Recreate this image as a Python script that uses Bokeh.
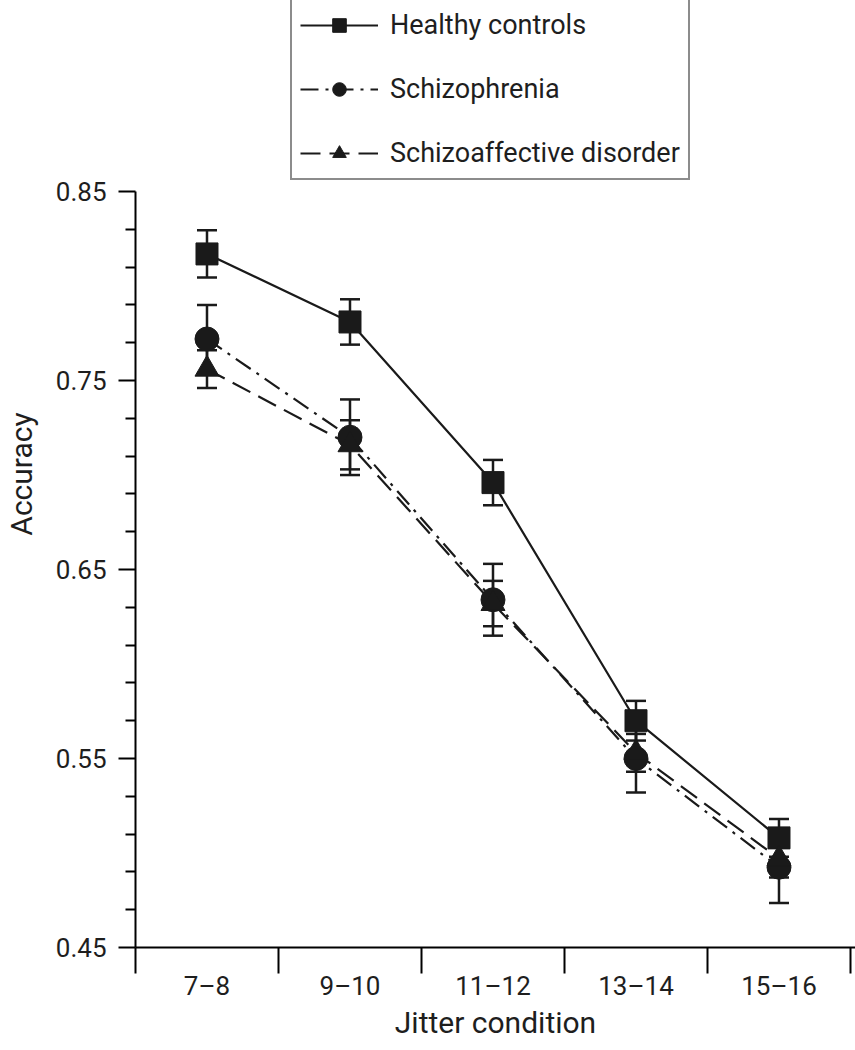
from bokeh.plotting import figure
from bokeh.models import Range1d, FixedTicker, Legend, LegendItem, ColumnDataSource, Whisker, TeeHead
from bokeh.embed import file_html
from bokeh.resources import INLINE

conditions = ["7–8", "9–10", "11–12", "13–14", "15–16"]
healthy = [0.817, 0.781, 0.696, 0.570, 0.508]
healthy_err = [0.0125, 0.012, 0.012, 0.0105, 0.010]
scz = [0.772, 0.720, 0.634, 0.550, 0.4925]
scz_err = [0.018, 0.020, 0.019, 0.018, 0.019]
sza = [0.756, 0.716, 0.632, 0.553, 0.497]
sza_err = [0.010, 0.013, 0.012, 0.010, 0.010]

xs = [i + 0.5 for i in range(len(conditions))]

W, H = 855, 1050
BOTTOM = 103
FRAME_H = H - BOTTOM
p = figure(width=W, height=H, output_backend="svg", toolbar_location=None,
           x_range=Range1d(0, 5.035), y_range=Range1d(0.45, 0.9511),
           min_border_left=135, min_border_right=0, min_border_top=0, min_border_bottom=BOTTOM)
p.outline_line_color = None
p.xgrid.visible = False
p.ygrid.visible = False
p.background_fill_color = "white"

FONT = "Roboto"
TXT = "#1e1e1e"

# x axis
p.xaxis.ticker = FixedTicker(ticks=xs, minor_ticks=[0, 1, 2, 3, 4, 5])
p.xaxis.major_label_overrides = {x: c for x, c in zip(xs, conditions)}
p.xaxis.major_tick_out = 0
p.xaxis.major_tick_in = 0
p.xaxis.minor_tick_out = 26
p.xaxis.minor_tick_in = 0
p.xaxis.major_label_standoff = -3
p.xaxis.major_label_text_font = FONT
p.xaxis.major_label_text_font_size = "26px"
p.xaxis.major_label_text_color = TXT
p.xaxis.axis_label = "Jitter condition"
p.xaxis.axis_label_text_font = FONT
p.xaxis.axis_label_text_font_size = "30px"
p.xaxis.axis_label_text_font_style = "normal"
p.xaxis.axis_label_text_color = TXT
p.xaxis.axis_label_standoff = 1
p.xaxis.axis_line_width = 2
p.xaxis.minor_tick_line_width = 2

# y axis
p.yaxis.ticker = FixedTicker(ticks=[0.45, 0.55, 0.65, 0.75, 0.85],
                             minor_ticks=[0.47, 0.49, 0.51, 0.53, 0.57, 0.59, 0.61, 0.63,
                                          0.67, 0.69, 0.71, 0.73, 0.77, 0.79, 0.81, 0.83])
p.yaxis.bounds = (0.45, 0.85)
p.yaxis.major_tick_out = 17
p.yaxis.major_tick_in = 0
p.yaxis.minor_tick_out = 10
p.yaxis.minor_tick_in = 0
p.yaxis.major_label_standoff = 12
p.yaxis.major_label_text_font = FONT
p.yaxis.major_label_text_font_size = "26px"
p.yaxis.major_label_text_color = TXT
p.yaxis.axis_label = "Accuracy"
p.yaxis.axis_label_text_font = FONT
p.yaxis.axis_label_text_font_size = "30px"
p.yaxis.axis_label_text_font_style = "normal"
p.yaxis.axis_label_text_color = TXT
p.yaxis.axis_label_standoff = 14
p.yaxis.axis_line_width = 2
p.yaxis.major_tick_line_width = 2
p.yaxis.minor_tick_line_width = 2

series = [
    (healthy, healthy_err, "square", 22, None, "Healthy controls"),
    (scz, scz_err, "circle", 24, "18 7 3 7", "Schizophrenia"),
    (sza, sza_err, "triangle", 24, "20 9", "Schizoaffective disorder"),
]

items = []
for vals, errs, marker, size, dash, label in series:
    src = ColumnDataSource(dict(x=xs, y=vals,
                                lo=[v - e for v, e in zip(vals, errs)],
                                hi=[v + e for v, e in zip(vals, errs)]))
    ln = p.line("x", "y", source=src, line_color="#1a1a1a", line_width=2.2,
                line_dash=dash if dash else "solid")
    items.append((label, ln, src, marker, size))

for label, ln, src, marker, size in items:
    w = Whisker(base="x", lower="lo", upper="hi", source=src, line_color="#1a1a1a",
                line_width=2.5,
                upper_head=TeeHead(size=20, line_color="#1a1a1a", line_width=2.5),
                lower_head=TeeHead(size=20, line_color="#1a1a1a", line_width=2.5))
    p.add_layout(w)

legend_items = []
for label, ln, src, marker, size in items:
    mk = p.scatter("x", "y", source=src, marker=marker, size=size,
                   fill_color="#1a1a1a", line_color="#1a1a1a")
    legend_items.append(LegendItem(label=label, renderers=[ln, mk]))

legend = Legend(items=legend_items, location=(155, FRAME_H - 180))
legend.label_text_font = FONT
legend.label_text_font_size = "27px"
legend.label_text_color = TXT
legend.glyph_width = 78
legend.glyph_height = 34
legend.label_height = 34
legend.spacing = 30
legend.padding = 8
legend.margin = 0
legend.label_standoff = 12
legend.border_line_color = "#1a1a1a"
legend.border_line_width = 2
legend.background_fill_alpha = 1
p.add_layout(legend)

open("out.html", "w").write(file_html(p, INLINE))
